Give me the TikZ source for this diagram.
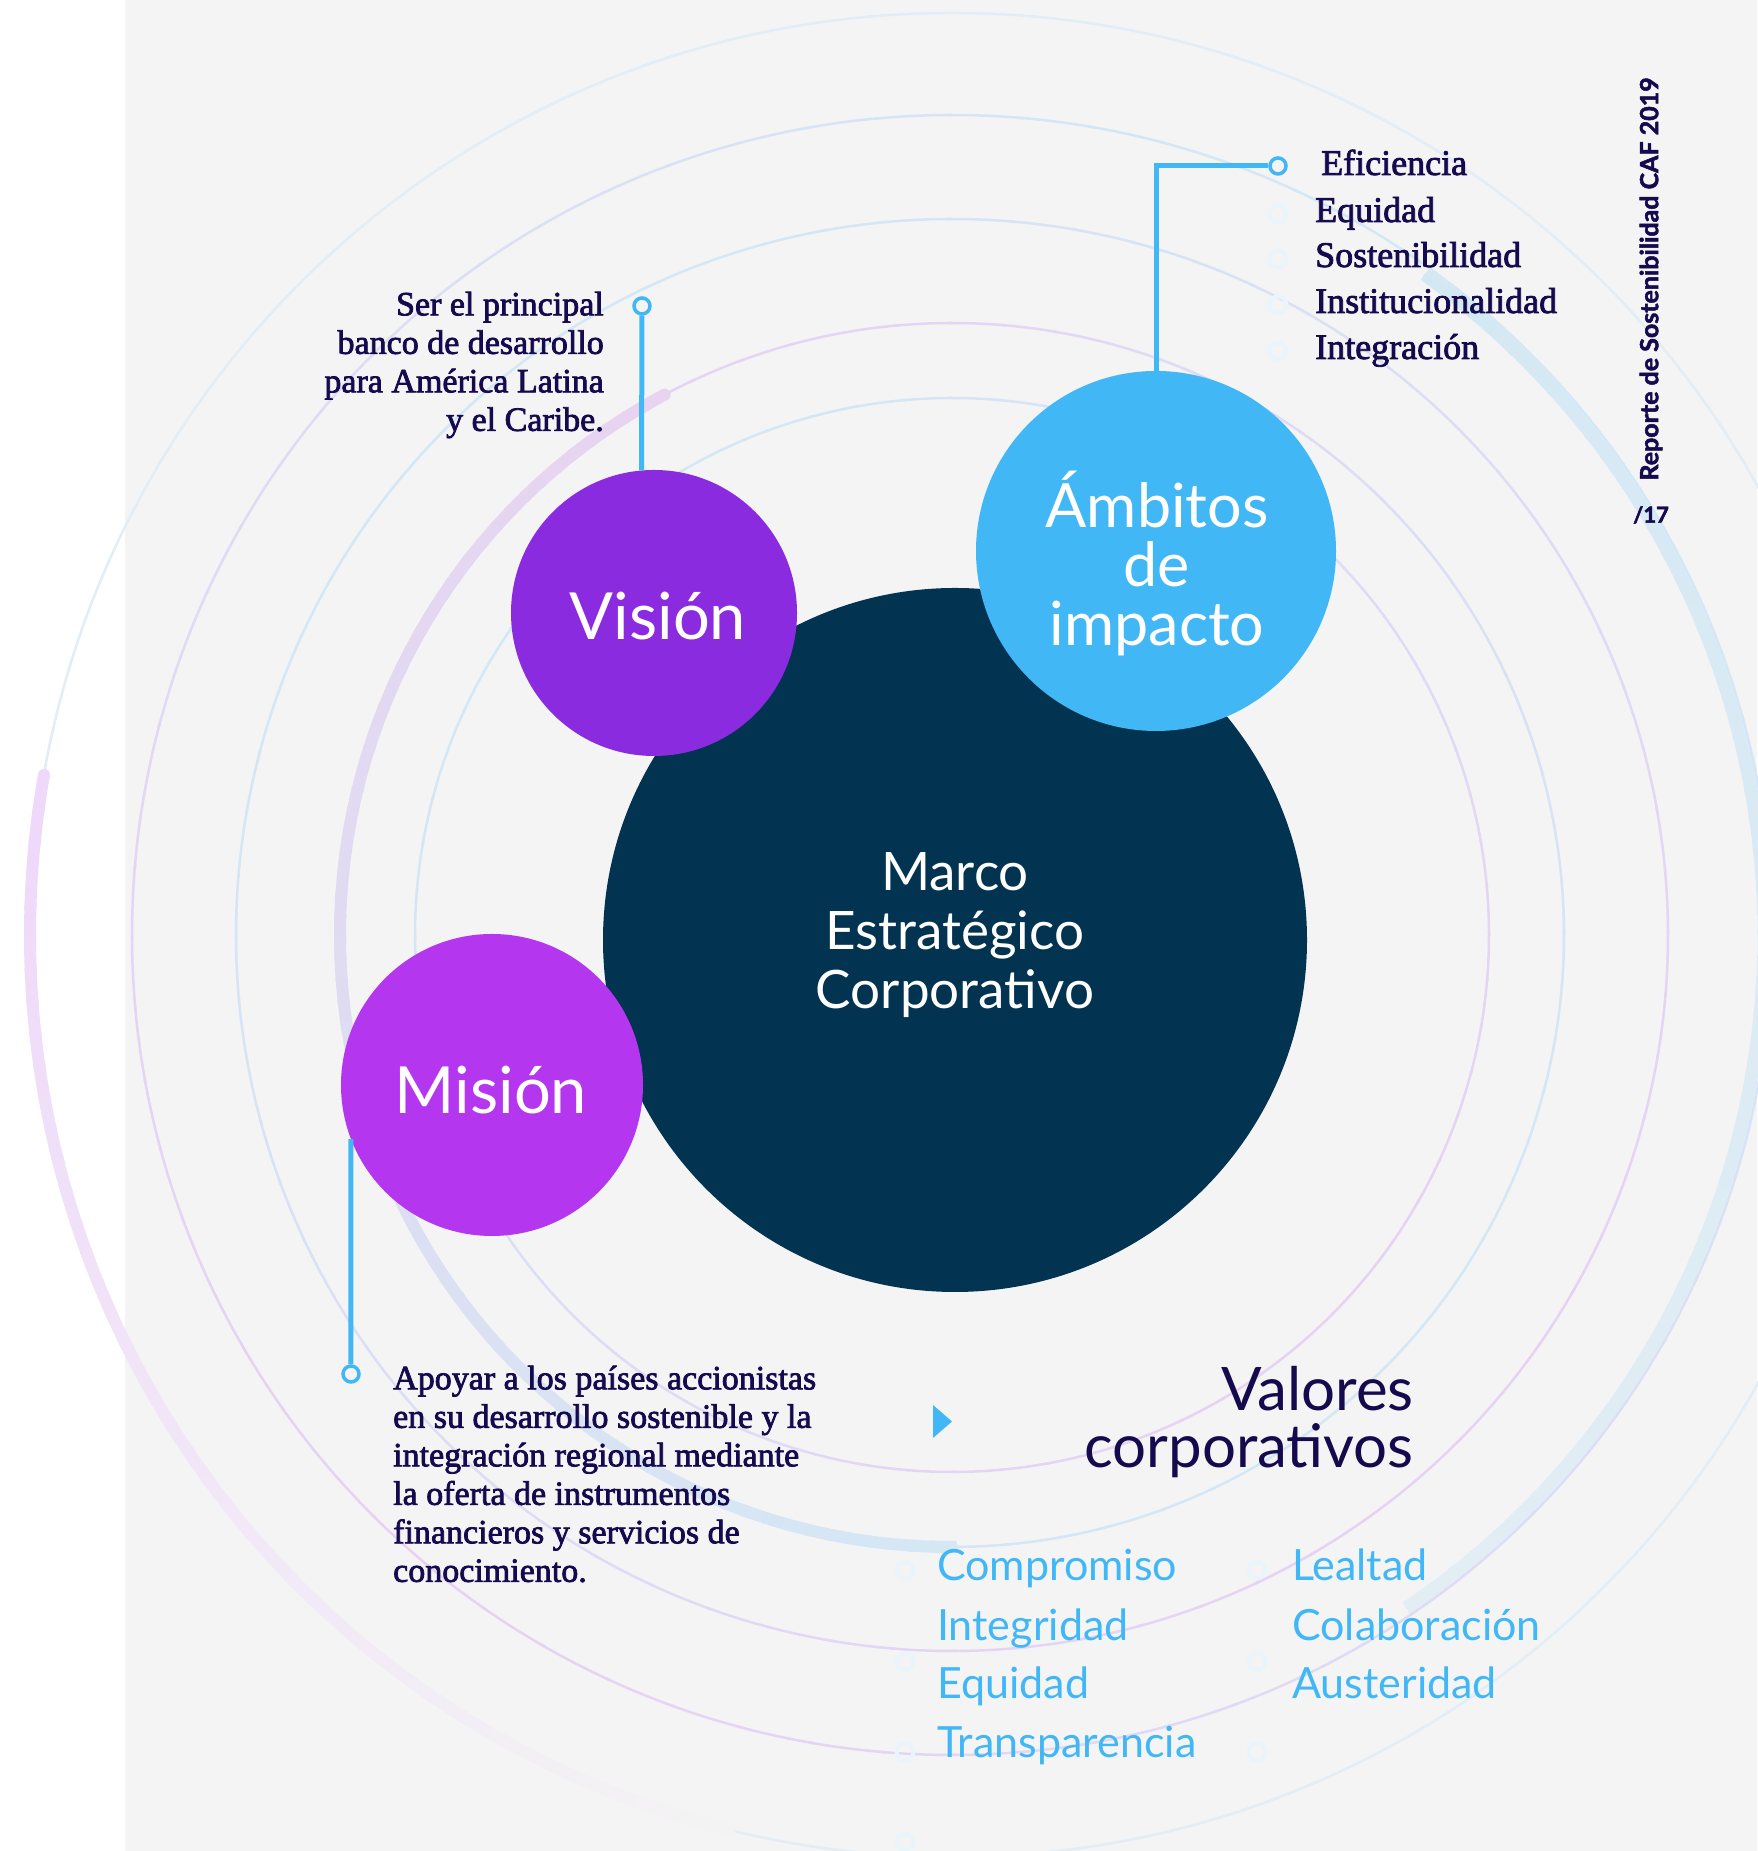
\documentclass[tikz,border=0pt]{standalone}
\usepackage{fontspec}
\setmainfont{Lato}
\newfontfamily\serifm[FakeBold=2.2]{Liberation Serif}
\newfontfamily\heavy[BoldFeatures={FakeBold=2}]{Lato}
\definecolor{bgray}{HTML}{F4F4F4}
\definecolor{navy}{HTML}{023350}
\definecolor{vispur}{HTML}{8A2BE0}
\definecolor{mispur}{HTML}{B437EF}
\definecolor{ambblue}{HTML}{42B7F6}
\definecolor{ink}{HTML}{140A4D}
\definecolor{ringB}{HTML}{D3E8F6}
\definecolor{ringP}{HTML}{E6D3F4}
\definecolor{thickP}{HTML}{E8D3F1}
\definecolor{thickB}{HTML}{D4E8F4}
\definecolor{outerP}{HTML}{EFD8FA}
\definecolor{ghost}{HTML}{EAF4FB}
\begin{document}
\begin{tikzpicture}[x=1pt,y=1pt,
  bubble/.style={circle, inner sep=0, text=white},
  conn/.style={draw=ambblue, line width=5},
  marker/.style={circle, draw=ambblue, line width=3.5, fill=bgray, minimum size=16, inner sep=0},
  ghostm/.style={circle, draw=ghost, line width=4, minimum size=17, inner sep=0},
  serift/.style={font=\serifm\fontsize{34}{38.5}\selectfont, text=ink, inner sep=0},
  listt/.style={font=\serifm\fontsize{36}{40}\selectfont, text=ink, inner sep=0, anchor=west, text height=24, text depth=8},
  valt/.style={font=\fontsize{43}{48}\selectfont, text=ambblue, inner sep=0, anchor=west, text height=31, text depth=9}
]
\useasboundingbox (0,0) rectangle (1757,1851);
\fill[white] (0,0) rectangle (1757,1851);
\fill[bgray] (125,0) rectangle (1757,1851);

\coordinate (C) at (952,916);
% thin rings with colour shifting along them
\foreach \rr/\aa in {537/135, 612/-45, 716/135, 820/45} {
  \foreach \t in {0,5,...,355} {
    \pgfmathsetmacro\pc{50+50*cos(\t+2.5-\aa)}
    \draw[ringB!\pc!ringP, line width=2.5] (C) ++(\t:\rr) arc[start angle=\t, end angle=\t+5.4, radius=\rr];
  }
}
\draw[ringB!55!bgray, line width=2.5] (C) circle[radius=922];

% thick arcs
\foreach \t in {118,120,...,268} {
  \pgfmathsetmacro\pc{100*(\t-118)/152}
  \draw[thickB!\pc!thickP, line width=12] (C) ++(\t:612) arc[start angle=\t, end angle=\t+2.4, radius=612];
}
\fill[thickP] (C) ++(118:612) circle[radius=6];
\fill[thickB] (C) ++(270:612) circle[radius=6];
\foreach \t in {170,172,...,254} {
  \pgfmathsetmacro\pc{100*(\t-170)/86}
  \draw[bgray!\pc!outerP, line width=12] (C) ++(\t:922) arc[start angle=\t, end angle=\t+2.4, radius=922];
}
\fill[outerP] (C) ++(170:922) circle[radius=6];
\foreach \t in {-56,-54,...,52} {
  \pgfmathsetmacro\pc{55+45*(\t+56)/108}
  \draw[thickB!\pc!bgray, line width=13] (C) ++(\t:812) arc[start angle=\t, end angle=\t+2.4, radius=812];
}
\fill[thickB] (C) ++(54:812) circle[radius=6.5];

% circles
\node[bubble, fill=navy, minimum size=704] (core) at (955,911) {};
\node[bubble, fill=vispur, minimum size=286] (vis) at (654,1238) {};
\node[bubble, fill=ambblue, minimum size=360] (amb) at (1156,1300) {};
\node[bubble, fill=mispur, minimum size=302] (mis) at (492,766) {};

\node[text=white, align=center, font=\fontsize{53}{59}\selectfont] (coret) at (955,916) {Marco\\Estratégico\\Corporativo};
\node[text=white, font=\fontsize{65}{65}\selectfont] (vist) at (658,1235) {Visión};
\node[text=white, align=center, font=\fontsize{61}{59}\selectfont] (ambt) at (1157,1287) {Ámbitos\\de\\impacto};
\node[text=white, font=\fontsize{65}{65}\selectfont] (mist) at (491,761) {Misión};

% connectors and markers
\node[marker] (mV) at (642,1545) {};
\node[marker] (mA) at (1278,1685) {};
\node[marker] (mM) at (351,477) {};
\draw[conn] (mV) -- (vis.95);
\draw[conn] (amb.north) |- (mA);
\draw[conn] (mis.201) -- (mM);

% faint markers
\node[ghostm] (gA1) at (1278,1637) {};
\node[ghostm] (gA2) at (1278,1592) {};
\node[ghostm] (gA3) at (1278,1546) {};
\node[ghostm] (gA4) at (1278,1500) {};
\node[ghostm] (gV1) at (905,281) {};
\node[ghostm] (gV2) at (905,189) {};
\node[ghostm] (gV3) at (905,99) {};
\node[ghostm] (gV4) at (905,9) {};
\node[ghostm] (gV5) at (1257,281) {};
\node[ghostm] (gV6) at (1257,189) {};
\node[ghostm] (gV7) at (1257,99) {};

% texts
\node[serift, anchor=east, align=right] (vtext) at (604,1486) {Ser el principal\\banco de desarrollo\\para América Latina\\y el Caribe.};
\node[serift, anchor=west, align=left] (mtext) at (393,377) {Apoyar a los países accionistas\\en su desarrollo sostenible y la\\integración regional mediante\\la oferta de instrumentos\\financieros y servicios de\\conocimiento.};

\node[listt] (l1) at (1321,1684) {Eficiencia};
\node[listt] (l2) at (1315,1637) {Equidad};
\node[listt] (l3) at (1315,1592) {Sostenibilidad};
\node[listt] (l4) at (1315,1546) {Institucionalidad};
\node[listt] (l5) at (1315,1500) {Integración};

\node[rotate=90, text=ink, inner sep=0, font=\heavy\bfseries\fontsize{25}{25}\selectfont] (rep) at (1651,1572) {Reporte de Sostenibilidad CAF 2019};
\node[text=ink, inner sep=0, font=\heavy\bfseries\fontsize{22}{22}\selectfont] (pg) at (1651,1336) {/17};

\fill[ambblue] (933,446) -- (952,429.5) -- (933,413) -- cycle;
\node[anchor=east, align=right, text=ink, inner sep=0, font=\fontsize{60}{57}\selectfont] (valt) at (1414,429) {Valores\\corporativos};

\node[valt] (v1) at (937,281) {Compromiso};
\node[valt] (v2) at (937,221) {Integridad};
\node[valt] (v3) at (937,163) {Equidad};
\node[valt] (v4) at (937,104) {Transparencia};
\node[valt] (v5) at (1292,281) {Lealtad};
\node[valt] (v6) at (1292,221) {Colaboración};
\node[valt] (v7) at (1292,163) {Austeridad};
\end{tikzpicture}
\end{document}
